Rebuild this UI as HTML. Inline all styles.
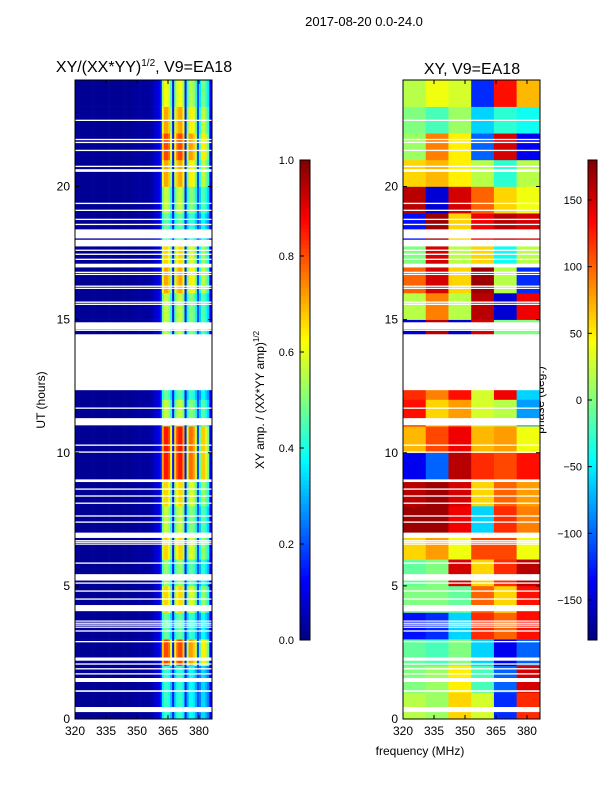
<!DOCTYPE html>
<html><head><meta charset="utf-8"><style>
body{margin:0;background:#fff;}
svg text{font-family:"Liberation Sans",sans-serif;fill:#000;}
</style></head><body>
<svg id="chart" width="600" height="800" xmlns="http://www.w3.org/2000/svg">
<text x="364" y="26" font-size="13" text-anchor="middle">2017-08-20 0.0-24.0</text>
<text x="144" y="72" font-size="16" text-anchor="middle">XY/(XX*YY)<tspan font-size="10" dy="-6">1/2</tspan><tspan dy="6">, V9=EA18</tspan></text>
<text x="472" y="74" font-size="16" text-anchor="middle">XY, V9=EA18</text>
<text x="420" y="755" font-size="12" text-anchor="middle">frequency (MHz)</text>
<text transform="translate(45,400) rotate(-90)" font-size="12" text-anchor="middle">UT (hours)</text>
<text transform="translate(264,400) rotate(-90)" font-size="12" text-anchor="middle">XY amp. / (XX*YY amp)<tspan font-size="8" dy="-5">1/2</tspan></text>
<text transform="translate(544,400) rotate(-90)" font-size="12" text-anchor="middle">phase (deg.)</text>
<g id="lp"></g>
<g id="rp"></g>
<g id="cb"></g>
</svg>
<script>
const hours=[0,1,2,3,4,5,6,7,8,9,10,11,12,13,14,15,16,17,18,19,20,21,22,23];
const freqTicks=[320,335,350,365,380];
const hourTicks=[0,5,10,15,20];
const ampTicks=[0.0,0.2,0.4,0.6,0.8,1.0];
const phaseTicks=[-150,-100,-50,0,50,100,150];
// amplitude: band gain per hour and spectral profile per 1 MHz (320..386)
const ampGain=[0.45,0.45,0.85,0.5,0.7,0.55,0.7,0.6,0.7,0.9,0.9,0.6,0.5,0.6,0.6,0.6,0.75,0.7,0.5,0.6,0.75,0.85,0.75,0.65];
const ampProfile=[0.02,0.02,0.02,0.02,0.02,0.02,0.02,0.02,0.02,0.02,0.02,0.02,0.02,0.02,0.02,0.02,0.02,0.02,0.02,0.02,0.02,0.02,0.02,0.02,0.02,0.02,0.02,0.02,0.03,0.03,0.03,0.03,0.03,0.03,0.03,0.03,0.04,0.05,0.06,0.08,0.1,0.15,
0.8,0.95,0.95,0.9,0.7,0.15,0.75,0.9,0.95,0.95,0.8,0.15,0.65,0.85,0.85,0.8,0.65,0.2,0.55,0.75,0.75,0.65,0.55,0.12,0.06,0.04,0.04];
const phaseFreqs=[320,331,342,353,364,375];
const phase=[
[20,10,60,30,-120,120],[0,10,50,-20,-100,150],[-10,-20,0,-60,-140,-100],[-130,-120,-60,120,100,130],
[0,0,-10,100,60,130],[-10,0,150,60,120,160],[60,80,40,110,110,40],[170,170,140,-60,120,90],
[160,170,150,60,100,80],[-140,-100,160,120,110,130],[70,110,140,70,80,40],[130,60,80,30,20,-80],
[120,90,130,30,140,-60],[0,0,0,0,0,0],[-150,160,-150,150,0,0],[20,90,20,160,-150,140],
[100,150,60,170,20,-120],[0,150,20,60,-40,20],[-130,170,60,140,160,150],[160,-150,150,100,60,40],
[60,70,50,20,-30,20],[10,90,50,-100,150,-140],[0,-20,10,-60,-30,-40],[20,40,30,-120,130,70]];
const gaps=[[0.26,0.45],[1.02,1.08],[1.39,1.54],[1.67,1.72],[1.86,1.91],[2.04,2.09],[2.19,2.31],[2.88,2.93],[3.28,3.33],[3.43,3.47],[3.51,3.55],[3.58,3.62],[3.66,3.7],[4.05,4.28],[4.48,4.53],[4.78,4.83],[5.08,5.13],[5.2,5.44],[5.83,5.88],[6.55,6.59],[6.62,6.66],[6.68,6.72],[6.8,7.0],[7.37,7.42],[7.6,7.65],[8.08,8.13],[8.35,8.4],[8.61,8.66],[8.9,9.0],[10.0,10.05],[10.26,10.31],[11.03,11.3],[11.65,11.7],[12.35,14.45],[14.58,14.62],[14.63,14.9],[15.55,15.6],[15.63,15.68],[16.15,16.2],[16.23,16.28],[16.68,16.72],[16.75,16.8],[16.96,17.1],[17.24,17.29],[17.43,17.48],[17.58,17.63],[17.75,18.0],[18.05,18.39],[18.55,18.6],[18.74,18.79],[19.08,19.13],[19.34,19.39],[20.55,20.65],[20.73,20.78],[21.33,21.38],[21.63,21.68],[21.74,21.79],[22.46,22.51]];
const NS="http://www.w3.org/2000/svg";
const T=80,B=719,L1=75,L2=403,W=137,FMIN=320,FMAX=386.3,HMAX=24;
const yS=h=>B-(h/HMAX)*(B-T);
const xS=(x0,f)=>x0+(f-FMIN)/(FMAX-FMIN)*W;
function jet(v){v=Math.max(0,Math.min(1,v));
 const r=Math.max(0,Math.min(1,1.5-Math.abs(4*v-3))),g=Math.max(0,Math.min(1,1.5-Math.abs(4*v-2))),b=Math.max(0,Math.min(1,1.5-Math.abs(4*v-1)));
 return `rgb(${Math.round(r*255)},${Math.round(g*255)},${Math.round(b*255)})`;}
function el(tag,attrs,parent){const e=document.createElementNS(NS,tag);for(const k in attrs)e.setAttribute(k,attrs[k]);parent.appendChild(e);return e;}
const lp=document.getElementById('lp'),rp=document.getElementById('rp'),cb=document.getElementById('cb');
hours.forEach((h,i)=>{ampProfile.forEach((p,j)=>{
 const f=FMIN+j,f2=Math.min(FMAX,f+1);
 const v=p>0.3?p*ampGain[i]:p;
 const r=el('rect',{x:xS(L1,f),y:yS(h+1),width:xS(L1,f2)-xS(L1,f)+0.3,height:yS(h)-yS(h+1)+0.3,fill:jet(v)},lp);
 
 
});});
hours.forEach((h,i)=>{phaseFreqs.forEach((f,j)=>{
 const f2=j<phaseFreqs.length-1?phaseFreqs[j+1]:FMAX;
 const r=el('rect',{x:xS(L2,f),y:yS(h+1),width:xS(L2,f2)-xS(L2,f)+0.3,height:yS(h)-yS(h+1)+0.3,fill:jet((phase[i][j]+180)/360)},rp);
 
 
});});
[[lp,L1],[rp,L2]].forEach(([g,x0])=>{gaps.forEach(gp=>{
 const r=el('rect',{x:x0,y:yS(gp[1]),width:W,height:Math.max(1.2,yS(gp[0])-yS(gp[1])),fill:'#fff'},g);
 
 
});});
[[lp,L1],[rp,L2]].forEach(([g,x0])=>{
 const fr=el('rect',{x:x0,y:T,width:W,height:B-T,fill:'none',stroke:'#000','stroke-width':1},g);
 
 
 freqTicks.forEach(f=>{const x=xS(x0,f);
  el('line',{x1:x,x2:x,y1:B,y2:B-4,stroke:'#000'},g);el('line',{x1:x,x2:x,y1:T,y2:T+4,stroke:'#000'},g);
  const t=el('text',{x:x,y:B+16,'font-size':12,'text-anchor':'middle'},g);t.textContent=f;
  
  });
 hourTicks.forEach(h=>{const y=yS(h);
  el('line',{x1:x0,x2:x0+4,y1:y,y2:y,stroke:'#000'},g);el('line',{x1:x0+W,x2:x0+W-4,y1:y,y2:y,stroke:'#000'},g);
  const t=el('text',{x:x0-5,y:y+4,'font-size':12,'text-anchor':'end'},g);t.textContent=h;
  
  });
});
function colorbar(x,w,ticks,lo,hi,name){
 const top=160,bot=640,n=120;
 for(let i=0;i<n;i++){const r=el('rect',{x:x,y:bot-(i+1)*(bot-top)/n,width:w,height:(bot-top)/n+0.5,fill:jet((i+0.5)/n)},cb);
  
  }
 el('rect',{x:x,y:top,width:w,height:bot-top,fill:'none',stroke:'#000'},cb);
 ticks.forEach(t=>{const y=bot-(t-lo)/(hi-lo)*(bot-top);
  el('line',{x1:x,x2:x+4,y1:y,y2:y,stroke:'#000'},cb);
  const tx=el('text',{x:x-6,y:y+4,'font-size':11,'text-anchor':'end'},cb);
  tx.textContent=(lo===0?t.toFixed(1):(t<0?'\u2212'+(-t):t));
  
  });
}
colorbar(300,10,ampTicks,0,1,'amp-colorbar');
colorbar(588,9,phaseTicks,-180,180,'phase-colorbar');
</script>
</body></html>
